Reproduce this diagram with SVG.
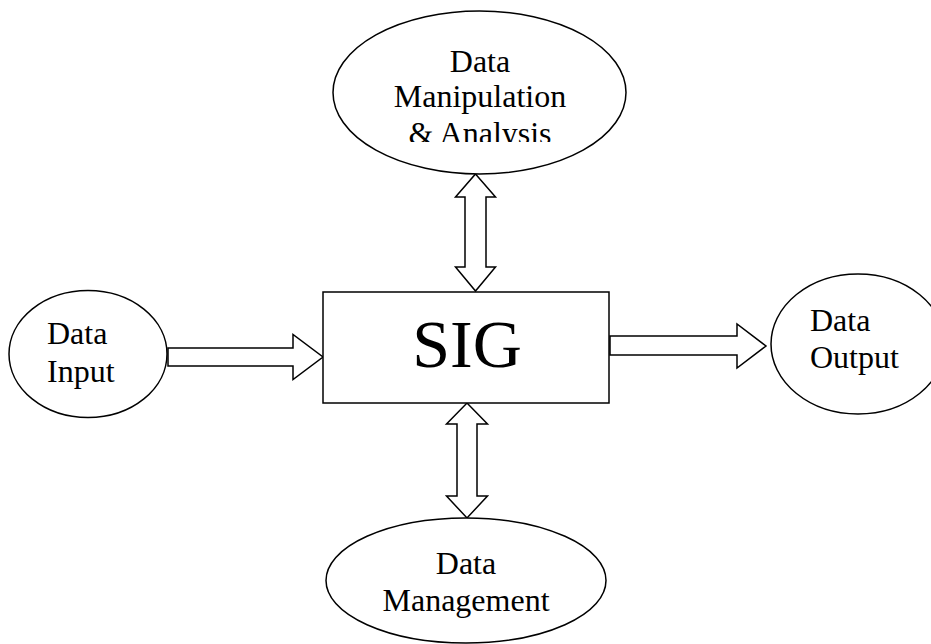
<svg xmlns="http://www.w3.org/2000/svg" width="931" height="644" viewBox="0 0 931 644">
<style>
.s{fill:#fff;stroke:#000;stroke-width:1.5}
.t{font-family:"Liberation Serif","Times New Roman",serif;font-size:32px;fill:#000}
.m{text-anchor:middle}
</style>
<defs>
<clipPath id="clipTop"><rect x="330" y="0" width="300" height="142"/></clipPath>
</defs>
<rect width="931" height="644" fill="#fff"/>
<g id="connectors">
<polygon class="s" points="168,348 293,348 293,334.5 323,357 293,379.5 293,366 168,366"/>
<polygon class="s" points="610,336 737,336 737,324 766,346 737,368 737,355 610,355"/>
<polygon class="s" points="475.5,174 495.5,197 486,197 486,267 495.5,267 475.5,291 455.5,267 465,267 465,197 455.5,197"/>
<polygon class="s" points="467,403 487.5,424 477,424 477,496 487.5,496 467,518 446.5,496 457,496 457,424 446.5,424"/>
</g>
<g id="top">
<ellipse class="s" cx="479.5" cy="92.5" rx="146.5" ry="81.5"/>
<g clip-path="url(#clipTop)">
<text class="t m" x="480" y="72">Data</text>
<text class="t m" x="480" y="107">Manipulation</text>
<text class="t m" x="480" y="144">&amp; Analysis</text>
</g>
</g>
<g id="sig">
<rect class="s" x="323" y="292" width="286" height="111"/>
<text class="m" x="467" y="367" style="font-family:'Liberation Serif','Times New Roman',serif;font-size:68px">SIG</text>
</g>
<g id="input">
<ellipse class="s" cx="88" cy="354" rx="79" ry="63.5"/>
<text class="t" x="47" y="344">Data</text>
<text class="t" x="47" y="381.5">Input</text>
</g>
<g id="output">
<ellipse class="s" cx="858" cy="344" rx="87" ry="70"/>
<text class="t" x="810" y="331">Data</text>
<text class="t" x="810" y="368">Output</text>
</g>
<g id="management">
<ellipse class="s" cx="466" cy="580.5" rx="140" ry="62.5"/>
<text class="t m" x="466" y="574">Data</text>
<text class="t m" x="466" y="611">Management</text>
</g>
</svg>
